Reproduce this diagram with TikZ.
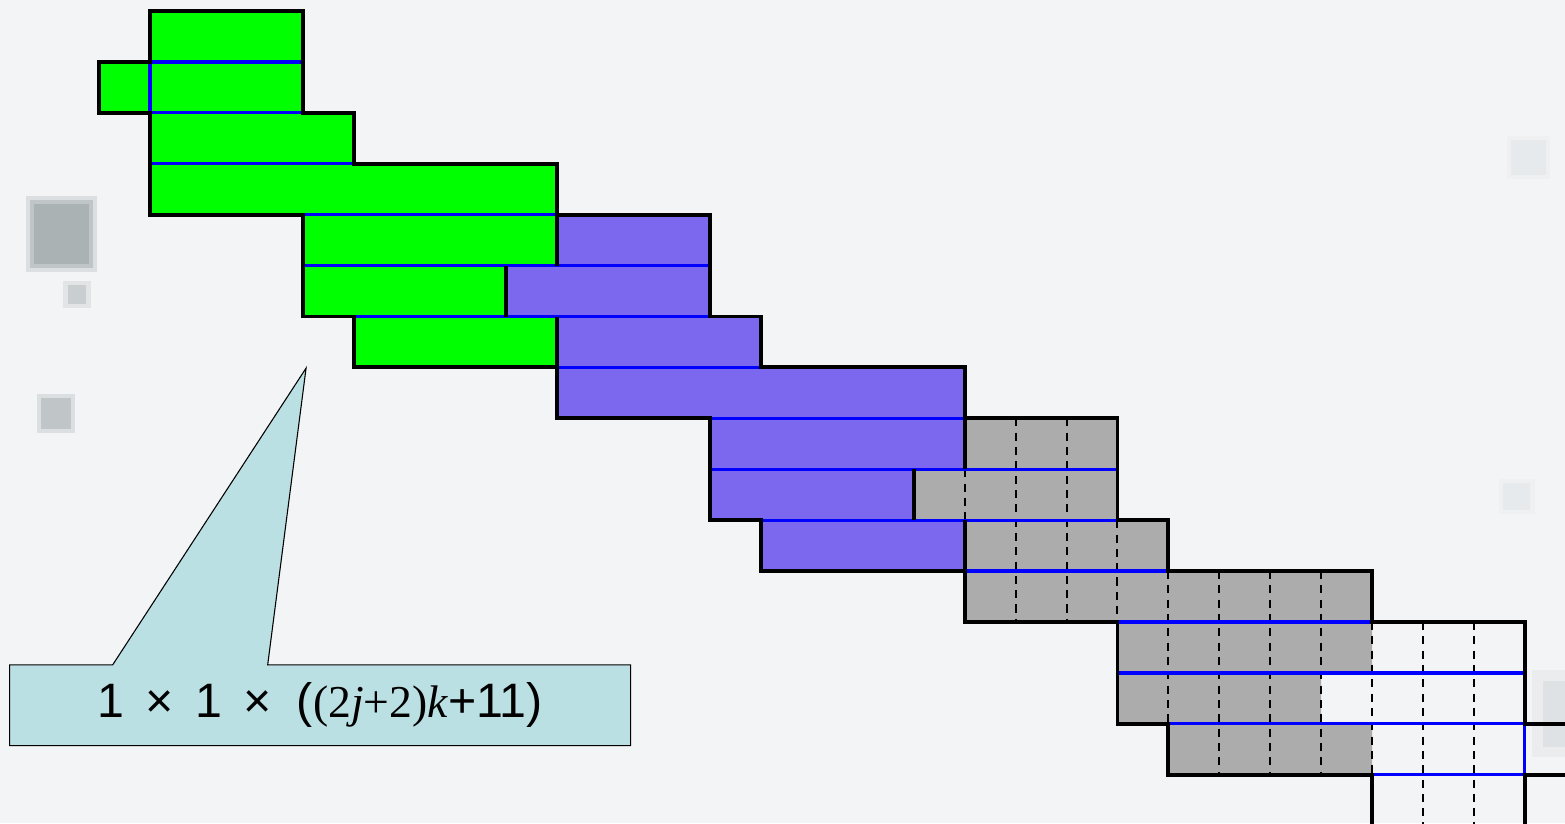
\documentclass[tikz,border=0pt]{standalone}
\usepackage{fontspec}
\newfontfamily\sansface{Liberation Sans}
\newfontfamily\serifface{Liberation Serif}
\usetikzlibrary{
  calc,positioning
}

\definecolor{pagebg}{RGB}{243,244,246}
\definecolor{smudge}{RGB}{130,142,145}
\definecolor{greenfill}{RGB}{0,255,0}
\definecolor{purplefill}{RGB}{123,104,238}
\definecolor{grayfill}{RGB}{172,172,172}
\definecolor{sepblue}{RGB}{0,0,255}
\definecolor{calloutblue}{RGB}{187,224,227}

\tikzset{
  outline/.style={black,line width=2.2pt,line join=miter,line cap=rect},
  seprow/.style={sepblue,line width=1.8pt},
  subcell/.style={black,line width=1.1pt,dash pattern=on 4.5pt off 3.5pt},
  formulabox/.style={fill=calloutblue,minimum width=12.18cm,minimum height=1.571cm,inner sep=0pt},
  blur/.style={smudge,opacity=#1}
}

\begin{document}
\begin{tikzpicture}[x=1cm,y=1cm]

\clip (-2.946,0.216) rectangle (27.789,-15.953);
\fill[pagebg] (-2.946,0.216) rectangle (27.789,-15.953);
\fill[blur=0.2] (-2.437,-3.633) rectangle (-1.040,-5.129);
\fill[blur=0.3] (-2.357,-3.713) rectangle (-1.120,-5.049);
\fill[blur=0.35] (-2.277,-3.793) rectangle (-1.200,-4.969);
\fill[blur=0.15] (-1.700,-5.294) rectangle (-1.168,-5.826);
\fill[blur=0.25] (-1.620,-5.374) rectangle (-1.248,-5.746);
\fill[blur=0.2] (-2.221,-7.523) rectangle (-1.472,-8.292);
\fill[blur=0.3] (-2.141,-7.603) rectangle (-1.552,-8.212);
\fill[blur=0.04] (26.640,-2.454) rectangle (27.490,-3.302);
\fill[blur=0.06] (26.720,-2.534) rectangle (27.410,-3.222);
\fill[blur=0.04] (26.500,-9.190) rectangle (27.190,-9.880);
\fill[blur=0.06] (26.580,-9.270) rectangle (27.110,-9.800);
\fill[blur=0.08] (27.150,-12.950) rectangle (27.789,-14.650);
\fill[blur=0.1] (27.350,-13.150) rectangle (27.789,-14.450);

\fill[greenfill] (0,0) rectangle (3,-1) (-1,-1) rectangle (3,-2) (0,-2) rectangle (4,-3)
  (0,-3) rectangle (8,-4) (3,-4) rectangle (8,-5) (3,-5) rectangle (7,-6) (4,-6) rectangle (8,-7);
\fill[purplefill] (8,-4) rectangle (11,-5) (7,-5) rectangle (11,-6) (8,-6) rectangle (12,-7)
  (8,-7) rectangle (16,-8) (11,-8) rectangle (16,-9) (11,-9) rectangle (15,-10) (12,-10) rectangle (16,-11);
\fill[grayfill] (16,-8) rectangle (19,-9) (15,-9) rectangle (19,-10) (16,-10) rectangle (20,-11)
  (16,-11) rectangle (24,-12) (19,-12) rectangle (24,-13) (19,-13) rectangle (23,-14) (20,-14) rectangle (24,-15);

\draw[subcell] (16,-9) -- (16,-10) (17,-8) -- (17,-12) (18,-8) -- (18,-12) (19,-10) -- (19,-12)
  (20,-11) -- (20,-14) (21,-11) -- (21,-15) (22,-11) -- (22,-15) (23,-11) -- (23,-15)
  (24,-12) -- (24,-15) (25,-12) -- (25,-16.2) (26,-12) -- (26,-16.2);

\draw[seprow] (0,-1) -- (3,-1) (0,-1) -- (0,-2) (0,-2) -- (3,-2) (0,-3) -- (4,-3)
  (3,-4) -- (8,-4) (3,-5) -- (11,-5) (4,-6) -- (11,-6) (8,-7) -- (12,-7)
  (11,-8) -- (16,-8) (11,-9) -- (19,-9) (12,-10) -- (19,-10) (16,-11) -- (20,-11)
  (19,-12) -- (24,-12) (19,-13) -- (27,-13) (20,-14) -- (27,-14) (27,-14) -- (27,-15) (24,-15) -- (27,-15);

\draw[outline] (28.2,-14) -- (27,-14) -- (27,-12) -- (24,-12) -- (24,-11) -- (20,-11) -- (20,-10)
  -- (19,-10) -- (19,-8) -- (16,-8) -- (16,-7) -- (12,-7) -- (12,-6) -- (11,-6) -- (11,-4)
  -- (8,-4) -- (8,-3) -- (4,-3) -- (4,-2) -- (3,-2) -- (3,0) -- (0,0) -- (0,-1) -- (-1,-1)
  -- (-1,-2) -- (0,-2) -- (0,-4) -- (3,-4) -- (3,-6) -- (4,-6) -- (4,-7) -- (8,-7) -- (8,-8)
  -- (11,-8) -- (11,-10) -- (12,-10) -- (12,-11) -- (16,-11) -- (16,-12) -- (19,-12) -- (19,-14)
  -- (20,-14) -- (20,-15) -- (24,-15) -- (24,-16.2);
\draw[outline] (28.2,-15) -- (27,-15) -- (27,-16.2);
\draw[outline,line cap=butt] (8,-4) -- (8,-5) (7,-5) -- (7,-6) (8,-6) -- (8,-7)
  (16,-8) -- (16,-9) (15,-9) -- (15,-10) (16,-10) -- (16,-11);

\node[formulabox] (formula) at (3.340,-13.635) {\fontsize{27}{30}\selectfont
  \sansface 1\hspace{12pt}×\hspace{12pt}1\hspace{12pt}×\hspace{14pt}(%
  {\serifface\fontsize{25.5}{30}\selectfont(2\textit{j}+2)\textit{k}}+11)};
\coordinate (tip) at (3.065,-7.014);
\fill[calloutblue] ($(formula.north west)+(2.023,0)$) -- (tip) -- ($(formula.north west)+(5.068,0)$) -- cycle;
\draw[black,line width=0.6pt] ($(formula.north west)+(2.023,0)$) -- (formula.north west) -- (formula.south west)
  -- (formula.south east) -- (formula.north east) -- ($(formula.north west)+(5.068,0)$) -- (tip) -- cycle;
\end{tikzpicture}
\end{document}
